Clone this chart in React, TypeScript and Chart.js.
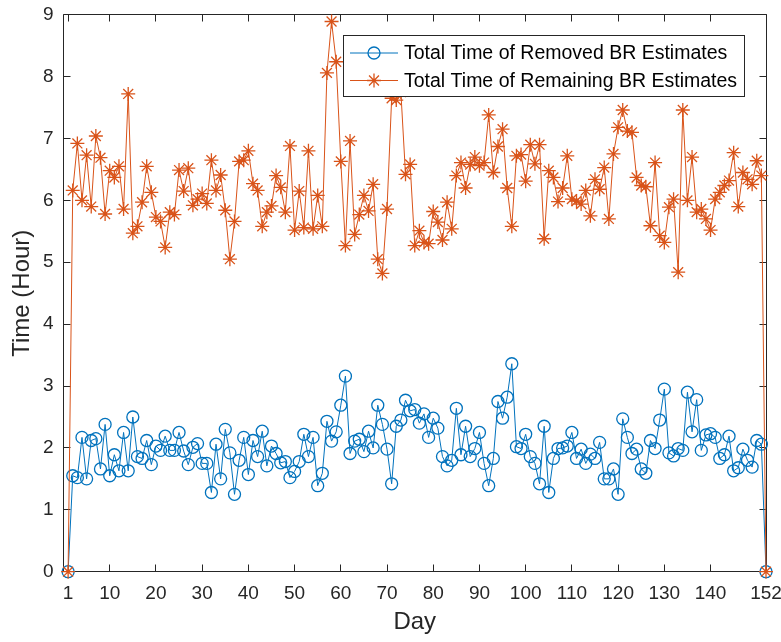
import React, { useEffect, useRef } from "react";
import { Chart, registerables } from "chart.js";

Chart.register(...registerables);

// Total time of removed BR estimates, days 1..152 (hours)
const removed = [
  0, 1.55, 1.52, 2.17, 1.5, 2.12, 2.15, 1.66, 2.38, 1.55,
  1.89, 1.63, 2.25, 1.63, 2.5, 1.86, 1.83, 2.12, 1.73, 2.03,
  1.96, 2.19, 1.96, 1.96, 2.25, 1.95, 1.73, 2.01, 2.07, 1.75,
  1.75, 1.28, 2.06, 1.5, 2.3, 1.92, 1.25, 1.8, 2.17, 1.57,
  2.12, 1.86, 2.27, 1.71, 2.03, 1.91, 1.76, 1.78, 1.52, 1.62,
  1.78, 2.22, 1.86, 2.17, 1.39, 1.59, 2.43, 2.11, 2.26, 2.69,
  3.16, 1.91, 2.11, 2.14, 1.94, 2.27, 2.0, 2.69, 2.38, 1.98,
  1.42, 2.35, 2.45, 2.77, 2.6, 2.62, 2.4, 2.55, 2.17, 2.48,
  2.32, 1.86, 1.71, 1.8, 2.64, 1.89, 2.35, 1.86, 1.99, 2.25,
  1.75, 1.39, 1.83, 2.75, 2.48, 2.82, 3.36, 2.02, 1.99, 2.22,
  1.86, 1.75, 1.42, 2.35, 1.28, 1.83, 1.99, 2.0, 2.03, 2.25,
  1.83, 1.98, 1.75, 1.9, 1.83, 2.09, 1.5, 1.5, 1.66, 1.25,
  2.47, 2.17, 1.91, 1.98, 1.66, 1.59, 2.12, 1.99, 2.45, 2.95,
  1.92, 1.87, 1.99, 1.96, 2.9, 2.26, 2.78, 1.96, 2.21, 2.23,
  2.17, 1.83, 1.89, 2.19, 1.63, 1.68, 1.98, 1.8, 1.69, 2.12,
  2.06, 0,
];

// Total time of remaining BR estimates, days 1..152 (hours)
const remaining = [
  0, 6.16, 6.92, 6.0, 6.73, 5.9, 7.04, 6.69, 5.78, 6.48,
  6.37, 6.55, 5.86, 7.72, 5.47, 5.58, 5.97, 6.55, 6.13, 5.73,
  5.66, 5.24, 5.81, 5.77, 6.49, 6.15, 6.52, 5.92, 6.02, 6.11,
  5.95, 6.65, 6.16, 6.41, 5.84, 5.05, 5.66, 6.63, 6.65, 6.8,
  6.27, 6.16, 5.58, 5.81, 5.91, 6.4, 6.21, 5.81, 6.88, 5.52,
  6.15, 5.56, 6.8, 5.54, 6.08, 5.58, 8.06, 8.89, 8.24, 6.63,
  5.27, 6.96, 5.45, 5.77, 6.08, 5.83, 6.26, 5.05, 4.82, 5.86,
  7.65, 7.62, 7.75, 6.42, 6.58, 5.27, 5.51, 5.32, 5.3, 5.82,
  5.65, 5.36, 5.97, 5.54, 6.4, 6.61, 6.2, 6.58, 6.7, 6.56,
  6.61, 7.38, 6.45, 6.87, 7.15, 6.2, 5.58, 6.72, 6.74, 6.31,
  6.9, 6.59, 6.9, 5.38, 6.48, 6.37, 5.98, 6.2, 6.72, 6.02,
  5.99, 5.94, 6.16, 5.75, 6.34, 6.18, 6.53, 5.7, 6.75, 7.18,
  7.46, 7.12, 7.1, 6.37, 6.24, 6.22, 5.59, 6.61, 5.43, 5.32,
  5.89, 6.02, 4.84, 7.46, 6.0, 6.7, 5.81, 5.86, 5.7, 5.52,
  6.02, 6.13, 6.24, 6.32, 6.77, 5.9, 6.45, 6.34, 6.26, 6.64,
  6.4, 0,
];

const xTicks = [1, 10, 20, 30, 40, 50, 60, 70, 80, 90, 100, 110, 120, 130, 140, 152];
const yTicks = [0, 1, 2, 3, 4, 5, 6, 7, 8, 9];
const seriesNames = [
  "Total Time of Removed BR Estimates",
  "Total Time of Remaining BR Estimates",
];
const xTitle = "Day";
const yTitle = "Time (Hour)";

const BLUE = "#0072BD";
const ORANGE = "#D95319";
const AX = "#262626";
const FONT = '"Liberation Sans", Arial, Helvetica, sans-serif';

const crisp = (v: number) => Math.round(v - 0.5) + 0.5;

const framePlugin = {
  id: "matlabFrame",
  beforeDatasetsDraw(chart: any) {
    const { ctx, chartArea, scales } = chart;
    const l = crisp(chartArea.left);
    const r = crisp(chartArea.right);
    const t = crisp(chartArea.top);
    const b = crisp(chartArea.bottom);
    const tl = 7;
    ctx.save();
    ctx.strokeStyle = AX;
    ctx.lineWidth = 1;
    ctx.beginPath();
    ctx.rect(l, t, r - l, b - t);
    for (const v of xTicks) {
      const px = crisp(scales.x.getPixelForValue(v));
      ctx.moveTo(px, b);
      ctx.lineTo(px, b - tl);
      ctx.moveTo(px, t);
      ctx.lineTo(px, t + tl);
    }
    for (const v of yTicks) {
      const py = crisp(scales.y.getPixelForValue(v));
      ctx.moveTo(l, py);
      ctx.lineTo(l + tl, py);
      ctx.moveTo(r, py);
      ctx.lineTo(r - tl, py);
    }
    ctx.stroke();
    ctx.restore();
  },
};

function drawStar(ctx: CanvasRenderingContext2D, x: number, y: number, rad: number) {
  ctx.beginPath();
  ctx.moveTo(x - rad, y);
  ctx.lineTo(x + rad, y);
  ctx.moveTo(x, y - rad);
  ctx.lineTo(x, y + rad);
  const d = rad * Math.SQRT1_2;
  ctx.moveTo(x - d, y - d);
  ctx.lineTo(x + d, y + d);
  ctx.moveTo(x - d, y + d);
  ctx.lineTo(x + d, y - d);
  ctx.stroke();
}

const legendPlugin = {
  id: "matlabLegend",
  afterDraw(chart: any) {
    const { ctx } = chart;
    const bx = 343.5, by = 35.5, bw = 401, bh = 61;
    ctx.save();
    ctx.fillStyle = "#ffffff";
    ctx.fillRect(bx, by, bw, bh);
    ctx.strokeStyle = AX;
    ctx.lineWidth = 1;
    ctx.strokeRect(bx, by, bw, bh);
    const rows = [53, 80.5];
    const cols = [BLUE, ORANGE];
    for (let i = 0; i < 2; i++) {
      const y = rows[i];
      ctx.strokeStyle = cols[i];
      ctx.lineWidth = 1;
      ctx.beginPath();
      ctx.moveTo(350, y);
      ctx.lineTo(398, y);
      ctx.stroke();
      ctx.lineWidth = 1.3;
      if (i === 0) {
        ctx.beginPath();
        ctx.arc(374, y, 6, 0, Math.PI * 2);
        ctx.stroke();
      } else {
        drawStar(ctx, 374, y, 7);
      }
      ctx.fillStyle = "#000000";
      ctx.font = `19.5px ${FONT}`;
      ctx.textAlign = "left";
      ctx.textBaseline = "middle";
      ctx.fillText(seriesNames[i], 404, y + 1);
    }
    ctx.restore();
  },
};

export default function App() {
  const ref = useRef<HTMLCanvasElement | null>(null);

  useEffect(() => {
    document.body.style.margin = "0";
    const canvas = ref.current;
    if (!canvas) return;
    const chart = new Chart(canvas, {
      type: "line",
      data: {
        datasets: [
          {
            label: seriesNames[0],
            data: removed.map((v, i) => ({ x: i + 1, y: v })),
            borderColor: BLUE,
            borderWidth: 1,
            pointStyle: "circle",
            pointRadius: 6,
            pointBorderWidth: 1.3,
            pointBorderColor: BLUE,
            pointBackgroundColor: "rgba(0,0,0,0)",
            tension: 0,
            clip: false,
            order: 1,
          } as any,
          {
            label: seriesNames[1],
            data: remaining.map((v, i) => ({ x: i + 1, y: v })),
            borderColor: ORANGE,
            borderWidth: 1,
            pointStyle: "star",
            pointRadius: 7,
            pointBorderWidth: 1.3,
            pointBorderColor: ORANGE,
            pointBackgroundColor: ORANGE,
            tension: 0,
            clip: false,
            order: 0,
          } as any,
        ],
      },
      options: {
        animation: false,
        responsive: false,
        devicePixelRatio: 1,
        layout: { padding: { left: 0, right: 15, top: 14.7, bottom: 0 } },
        plugins: {
          legend: { display: false },
          tooltip: { enabled: false },
        },
        scales: {
          x: {
            type: "linear",
            min: 0,
            max: 152,
            afterBuildTicks: (s: any) => {
              s.ticks = xTicks.map((v) => ({ value: v }));
            },
            afterFit: (s: any) => {
              s.height = 70.3;
              s.paddingLeft = 0;
              s.paddingRight = 0;
            },
            grid: { display: false, drawTicks: false },
            border: { display: false },
            ticks: {
              autoSkip: false,
              maxRotation: 0,
              minRotation: 0,
              padding: 11,
              color: AX,
              font: { family: FONT, size: 19 },
              callback: (v: any) => String(v),
            },
            title: {
              display: true,
              text: xTitle,
              color: AX,
              font: { family: FONT, size: 24 },
              padding: { top: 0, bottom: 5 },
            },
          },
          y: {
            type: "linear",
            min: 0,
            max: 9,
            afterBuildTicks: (s: any) => {
              s.ticks = yTicks.map((v) => ({ value: v }));
            },
            afterFit: (s: any) => {
              s.width = 63.5;
              s.paddingTop = 0;
              s.paddingBottom = 0;
            },
            grid: { display: false, drawTicks: false },
            border: { display: false },
            ticks: {
              padding: 10,
              color: AX,
              font: { family: FONT, size: 19 },
              callback: (v: any) => String(v),
            },
            title: {
              display: true,
              text: yTitle,
              color: AX,
              font: { family: FONT, size: 24 },
              padding: { top: 8, bottom: 0 },
            },
          },
        },
      } as any,
      plugins: [framePlugin, legendPlugin],
    });
    return () => chart.destroy();
  }, []);

  return (
    <div style={{ width: 781, height: 642, background: "#fff" }}>
      <canvas ref={ref} width={781} height={642} style={{ display: "block" }} />
    </div>
  );
}
